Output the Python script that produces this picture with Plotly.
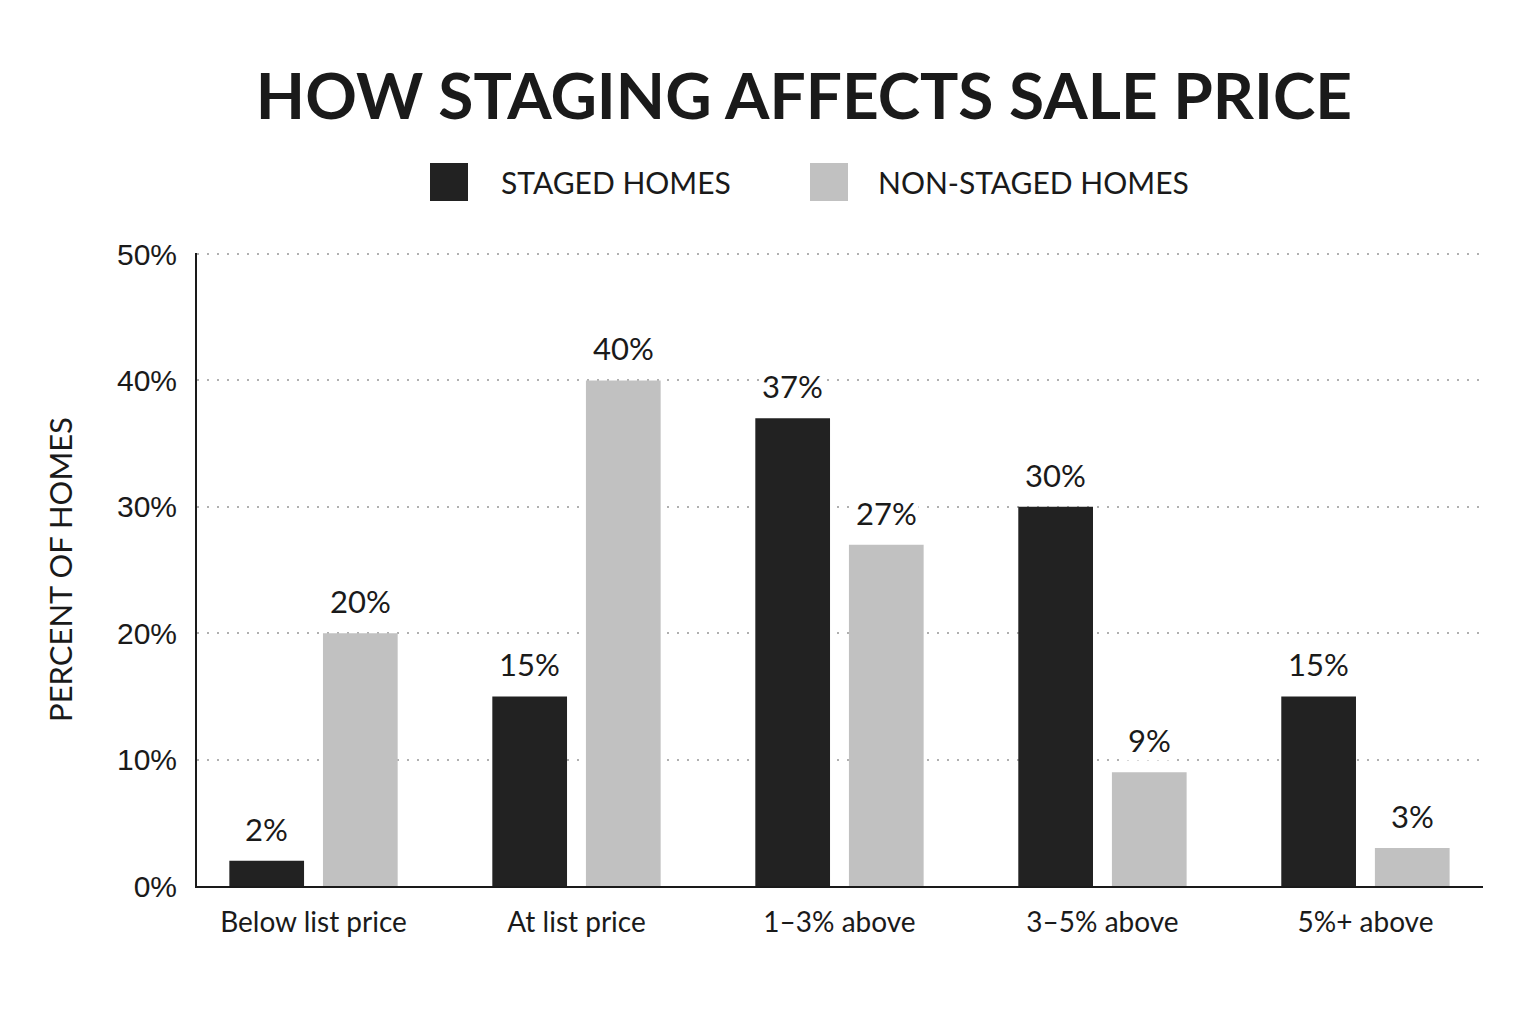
import plotly.graph_objects as go

categories = ["Below list price", "At list price", "1\u20133% above", "3\u20135% above", "5%+ above"]
staged = [2, 15, 37, 30, 15]
non_staged = [20, 40, 27, 9, 3]
series_names = ["STAGED HOMES", "NON-STAGED HOMES"]
y_ticks = [0, 10, 20, 30, 40, 50]
y_tick_labels = ["0%", "10%", "20%", "30%", "40%", "50%"]

DARK = "#222222"
LIGHT = "#c1c1c1"
TXT = "#1a1a1a"
FONT = "Lato, 'Noto Sans', sans-serif"
TICKFONT = "'Liberation Sans', Arial, sans-serif"

BARGAP = 0.288
BARGROUPGAP = 0.202

fig = go.Figure()
series = [(series_names[0], staged, DARK), (series_names[1], non_staged, LIGHT)]
for name, vals, col in series:
    fig.add_trace(go.Bar(
        x=categories, y=vals, name=name, marker=dict(color=col, line=dict(width=0)),
        showlegend=False, hovertemplate="%{x}: %{y}%<extra>" + name + "</extra>",
    ))

# value labels above bars (white background breaks the gridlines as in the reference)
slot = (1 - BARGAP) / len(series)
for s_idx, (name, vals, col) in enumerate(series):
    off = -(1 - BARGAP) / 2 + slot * (s_idx + 0.5)
    for i, v in enumerate(vals):
        fig.add_annotation(x=i + off, y=v, xref="x", yref="y", text=f"{v}%",
                           showarrow=False, yanchor="middle", yshift=32,
                           bgcolor="white", borderpad=1,
                           font=dict(family=FONT, size=31, color=TXT))

W, H = 1528, 1016
fig.update_layout(
    width=W, height=H,
    paper_bgcolor="white", plot_bgcolor="white",
    margin=dict(l=189, r=53, t=245, b=138),
    barmode="group", bargap=BARGAP, bargroupgap=BARGROUPGAP,
    title=dict(text="<b>HOW STAGING AFFECTS SALE PRICE</b>", x=796 / W, xanchor="center",
               y=1 - 89 / H, yanchor="middle",
               font=dict(family=FONT, size=64, color=TXT)),
    font=dict(family=FONT, color=TXT),
)

fig.update_xaxes(
    type="category", range=[-0.443, 4.447],
    showline=True, linecolor=TXT, linewidth=2,
    showgrid=False, ticks="", ticklabelstandoff=10,
    tickfont=dict(family=FONT, size=28, color=TXT),
)
fig.update_yaxes(
    range=[0, 50.08], tickvals=y_ticks, ticktext=y_tick_labels,
    showline=True, linecolor=TXT, linewidth=2,
    showgrid=True, gridcolor="#b0b0b0", griddash="2px,8px", gridwidth=1.5,
    zeroline=False, ticks="", ticklabelstandoff=12,
    tickfont=dict(family=TICKFONT, size=30, color=TXT),
    title=dict(text="PERCENT OF HOMES", standoff=35,
               font=dict(family=FONT, size=31, color=TXT)),
)

# custom legend (large swatches), positions measured relative to the plot area
PL, PB = 197, 886
plot_w, plot_h = 1286, 633
legend_items = [(series_names[0], DARK, 430, 499), (series_names[1], LIGHT, 810, 876)]
for name, col, sx, tx in legend_items:
    fig.add_shape(type="rect", xref="paper", yref="paper",
                  x0=(sx - PL) / plot_w, x1=(sx + 38 - PL) / plot_w,
                  y0=(PB - 201) / plot_h, y1=(PB - 163) / plot_h,
                  fillcolor=col, line=dict(width=0), layer="above")
    fig.add_annotation(xref="paper", yref="paper", x=(tx - PL) / plot_w, y=(PB - 182) / plot_h,
                       xanchor="left", yanchor="middle", showarrow=False, text=name,
                       font=dict(family=FONT, size=30, color=TXT))

fig.write_html("out.html")
